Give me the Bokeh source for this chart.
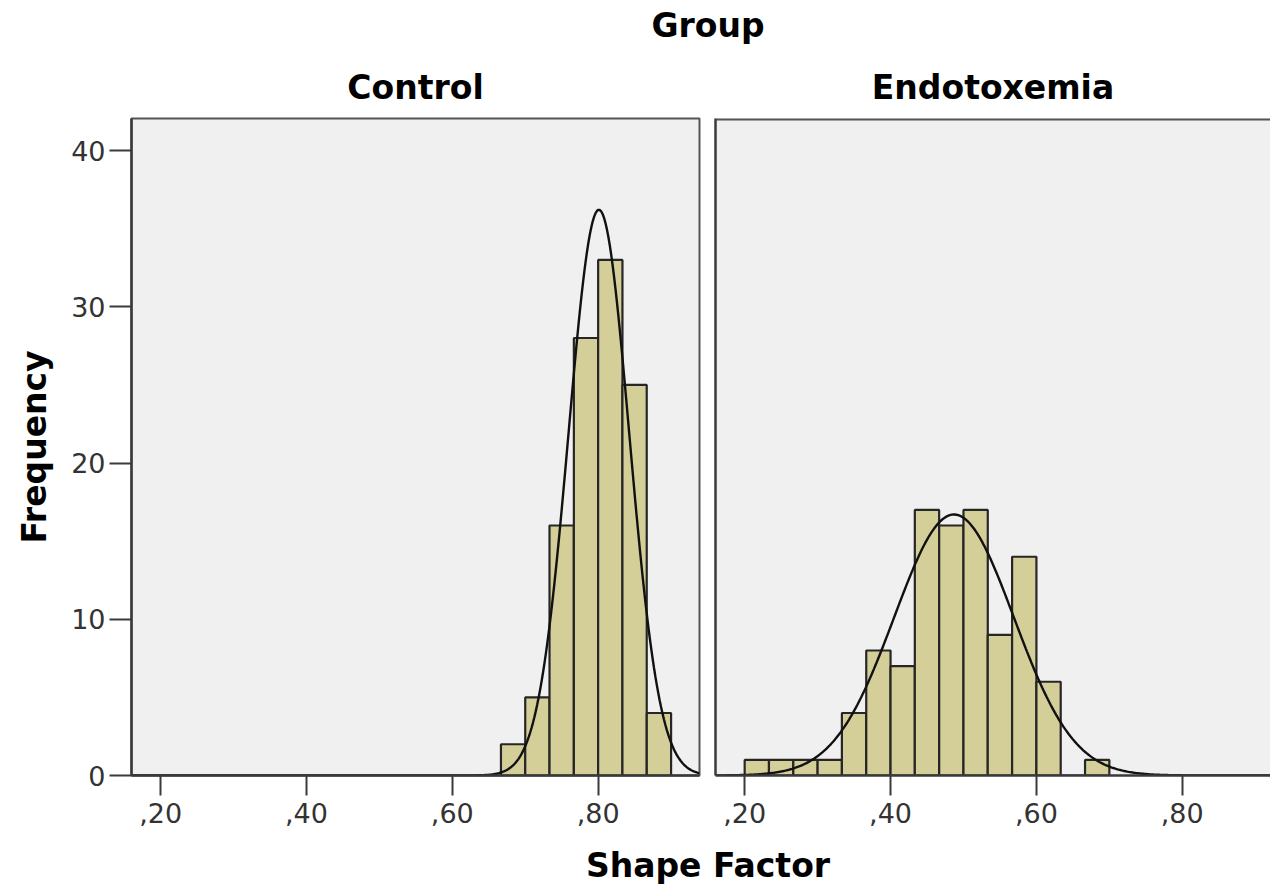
import numpy as np
from bokeh.plotting import figure
from bokeh.layouts import column, row
from bokeh.models import Div, Spacer, FixedTicker, Range1d, Span
from bokeh.embed import file_html
from bokeh.resources import INLINE

# ---------------- data ----------------
group_title = "Group"
panel_names = ["Control", "Endotoxemia"]
x_title = "Shape Factor"
y_title = "Frequency"

bin_width = 1 / 30
control_bin_lefts = [0.6667, 0.7000, 0.7333, 0.7667, 0.8000, 0.8333, 0.8667]
control_counts = [2, 5, 16, 28, 33, 25, 4]
endo_bin_lefts = [0.2000, 0.2333, 0.2667, 0.3000, 0.3333, 0.3667, 0.4000, 0.4333,
                  0.4667, 0.5000, 0.5333, 0.5667, 0.6000, 0.6333, 0.6667]
endo_counts = [1, 1, 1, 1, 4, 8, 7, 17, 16, 17, 9, 14, 6, 0, 1]

# normal-curve fit parameters (mean, std. dev.)
control_mean, control_sd = 0.801, 0.0415
endo_mean, endo_sd = 0.487, 0.082

x_ticks = [0.2, 0.4, 0.6, 0.8]
x_tick_labels = [",20", ",40", ",60", ",80"]
y_ticks = [0, 10, 20, 30, 40]

# ---------------- style ----------------
BAR_FILL = "#d4cf98"
BAR_LINE = "#262626"
PANEL_BG = "#f0f0f0"
AXIS_COL = "#3a3a3a"
TITLE_FONT = "DejaVu Sans"
TICK_FONT = "DejaVu Sans"
X_MIN, X_MAX1, X_MAX2 = 0.160, 0.939, 0.921
Y_MAX = 42.05


def normal_curve(mean, sd, counts, xmin, xmax):
    xs = np.linspace(xmin, xmax, 400)
    n = sum(counts)
    ys = n * bin_width * np.exp(-0.5 * ((xs - mean) / sd) ** 2) / (sd * np.sqrt(2 * np.pi))
    return xs, ys


def style_x_axis(p):
    ax = p.xaxis[0]
    ax.ticker = FixedTicker(ticks=x_ticks)
    ax.major_label_overrides = {t: lab for t, lab in zip(x_ticks, x_tick_labels)}
    ax.major_tick_out = 20
    ax.major_tick_in = 0
    ax.minor_tick_out = 0
    ax.minor_tick_in = 0
    ax.major_tick_line_width = 2
    ax.major_tick_line_color = AXIS_COL
    ax.axis_line_width = 2.5
    ax.axis_line_color = AXIS_COL
    ax.major_label_text_font = TICK_FONT
    ax.major_label_text_font_size = "27px"
    ax.major_label_text_color = "#333333"
    ax.major_label_standoff = 7


def make_panel(name, lefts, counts, mean, sd, xmax, width, mb_left, mb_right, show_y):
    p = figure(width=width, height=787,
               x_range=Range1d(X_MIN, xmax), y_range=Range1d(0, Y_MAX),
               output_backend="svg", toolbar_location=None,
               min_border_left=mb_left, min_border_right=mb_right,
               min_border_top=68, min_border_bottom=62,
               background_fill_color=PANEL_BG, border_fill_color="white")
    p.grid.visible = False
    p.title.text = name
    p.title.align = "center"
    p.title.text_font = TITLE_FONT
    p.title.text_font_size = "33px"
    p.title.text_font_style = "bold"
    p.title.text_color = "black"
    p.title.standoff = 24

    rights = [l + bin_width for l in lefts]
    p.quad(left=lefts, right=rights, bottom=0, top=counts,
           fill_color=BAR_FILL, line_color=BAR_LINE, line_width=2.2)
    xs, ys = normal_curve(mean, sd, counts, X_MIN, xmax)
    p.line(xs, ys, line_color="#111111", line_width=2.4)

    style_x_axis(p)
    ya = p.yaxis[0]
    ya.axis_line_width = 2.5
    ya.axis_line_color = AXIS_COL
    ya.minor_tick_out = 0
    ya.minor_tick_in = 0
    if show_y:
        ya.ticker = FixedTicker(ticks=y_ticks)
        ya.major_tick_out = 22
        ya.major_tick_in = 0
        ya.major_tick_line_width = 2
        ya.major_tick_line_color = AXIS_COL
        ya.major_label_text_font = TICK_FONT
        ya.major_label_text_font_size = "27px"
        ya.major_label_text_color = "#333333"
        ya.major_label_standoff = 4
        ya.axis_label = y_title
        ya.axis_label_text_font = TITLE_FONT
        ya.axis_label_text_font_size = "33px"
        ya.axis_label_text_font_style = "bold"
        ya.axis_label_text_color = "black"
        ya.axis_label_standoff = 14
        p.outline_line_color = "#555555"
        p.outline_line_width = 2
    else:
        ya.ticker = FixedTicker(ticks=[])
        ya.major_tick_out = 0
        ya.major_tick_in = 0
        ya.major_label_standoff = 0
        p.outline_line_color = None
        p.add_layout(Span(location=Y_MAX, dimension="width",
                          line_color="#555555", line_width=4))
    return p


p1 = make_panel(panel_names[0], control_bin_lefts, control_counts, control_mean, control_sd,
                X_MAX1, 707, 131, 8, True)
p2 = make_panel(panel_names[1], endo_bin_lefts, endo_counts, endo_mean, endo_sd,
                X_MAX2, 563, 8, 0, False)
p2.title.offset = 7

div_style = {"font-family": TITLE_FONT, "font-weight": "bold", "font-size": "33px",
             "text-align": "center", "color": "black"}
top_div = Div(text=group_title, width=1124, height=50, margin=(0, 0, 0, 0),
              styles=dict(div_style, **{"line-height": "52px"}))
bottom_div = Div(text=x_title, width=1124, height=51, margin=(0, 0, 0, 0),
                 styles=dict(div_style, **{"line-height": "58px"}))

layout = column(row(Spacer(width=146, height=50, margin=(0, 0, 0, 0)), top_div),
                row(p1, p2),
                row(Spacer(width=146, height=51, margin=(0, 0, 0, 0)), bottom_div))

open("out.html", "w").write(file_html(layout, INLINE))
